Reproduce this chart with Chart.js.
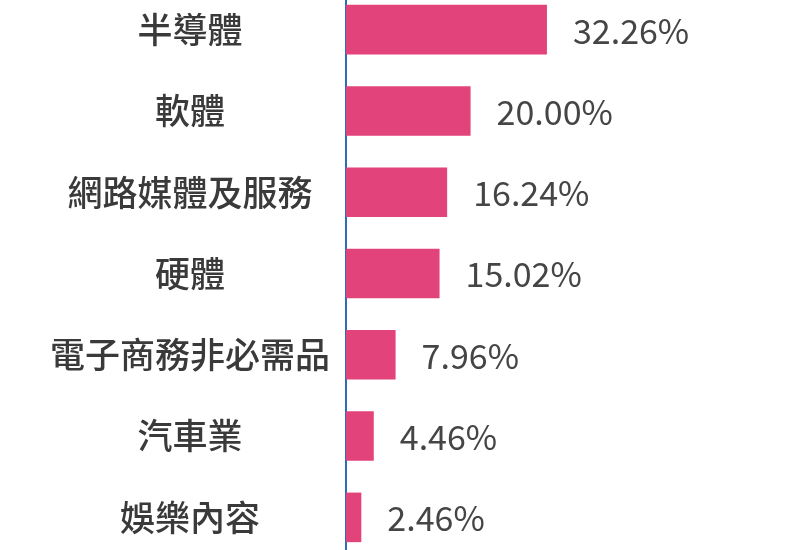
<!DOCTYPE html>
<html>
<head>
<meta charset="utf-8">
<script src="https://cdn.jsdelivr.net/npm/chart.js@4"></script>
<style>
    html, body { margin: 0; padding: 0; background: #fff; overflow: hidden; }
    #wrap { position: absolute; left: 0; top: -11px; width: 790px; height: 569px; }
</style>
</head>
<body>
<div id="wrap"><canvas id="sectorChart"></canvas></div>
<script>
const sectors = ['半導體', '軟體', '網路媒體及服務', '硬體', '電子商務非必需品', '汽車業', '娛樂內容'];
const weights = [32.26, 20.00, 16.24, 15.02, 7.96, 4.46, 2.46];

const FONT = '"Noto Sans CJK TC", "Noto Sans", sans-serif';

// draws the percentage next to each bar
const valueLabels = {
    id: 'valueLabels',
    afterDatasetsDraw(chart) {
        const ctx = chart.ctx;
        const meta = chart.getDatasetMeta(0);
        ctx.save();
        ctx.font = '34px ' + FONT;
        ctx.fillStyle = '#454545';
        ctx.textAlign = 'left';
        ctx.textBaseline = 'middle';
        meta.data.forEach((bar, i) => {
            ctx.fillText(weights[i].toFixed(2) + '%', bar.x + 26, bar.y + 1);
        });
        ctx.restore();
    }
};

function initChart() {
    const ctx = document.getElementById('sectorChart').getContext('2d');
    new Chart(ctx, {
        type: 'bar',
        data: {
            labels: sectors,
            datasets: [{
                data: weights,
                backgroundColor: '#e2437a',
                borderWidth: 0,
                categoryPercentage: 1,
                barPercentage: 0.61
            }]
        },
        options: {
            indexAxis: 'y',
            responsive: true,
            maintainAspectRatio: false,
            animation: false,
            layout: { padding: { left: 0, right: 8, top: 0, bottom: 0 } },
            plugins: {
                legend: { display: false },
                tooltip: { enabled: false }
            },
            scales: {
                x: {
                    display: false,
                    min: 0,
                    max: 70
                },
                y: {
                    grid: { display: false, drawTicks: false },
                    border: { display: true, color: '#2e6db4', width: 2 },
                    ticks: {
                        color: '#3a3a3a',
                        padding: 16,
                        crossAlign: 'center',
                        font: { family: FONT, size: 35, weight: '500' }
                    },
                    afterFit(scale) {
                        scale.width = 346;
                        scale.paddingTop = 0;
                        scale.paddingBottom = 0;
                    }
                }
            }
        },
        plugins: [valueLabels]
    });
}

document.addEventListener('DOMContentLoaded', initChart);
</script>
</body>
</html>
